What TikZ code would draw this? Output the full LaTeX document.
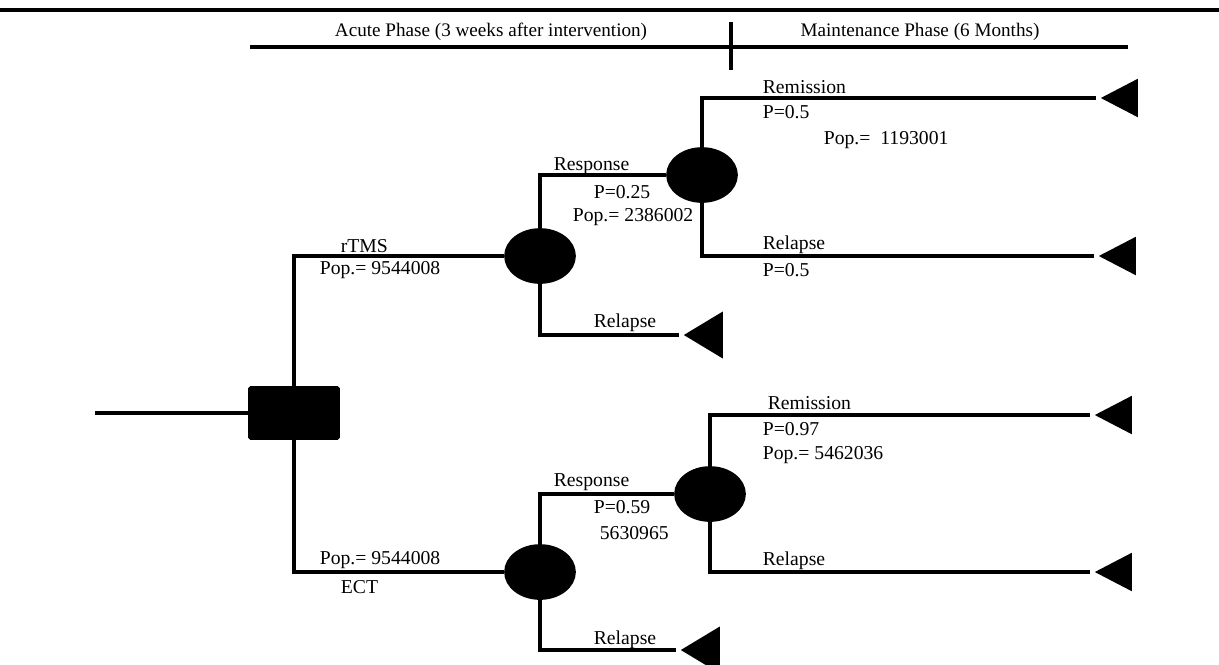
\documentclass[tikz,border=0pt]{standalone}
\usepackage{fontspec}
\setmainfont{Liberation Serif}
\usetikzlibrary{shapes.geometric,calc}
\newcommand{\treefont}{\fontsize{11.2}{13.4}\selectfont}
\newcommand{\kopffont}{\fontsize{10.9}{13}\selectfont}
\begin{document}
\begin{tikzpicture}[
	x=0.02cm, y=-0.02cm,% ein Pixel der Vorlage
	line width=2.1pt,
	entscheidung/.style={draw, fill, rectangle, rounded corners=0.5pt,
		minimum width=1.76cm, minimum height=1.0cm, inner sep=0pt},
	zufall/.style={draw, fill, ellipse, minimum width=1.36cm,
		minimum height=1.04cm, inner sep=0pt},
	ende/.style={fill, isosceles triangle, isosceles triangle stretches,
		shape border rotate=180, minimum width=0.77cm, minimum height=0.74cm,
		inner sep=0pt, anchor=apex},
	endeklein/.style={ende, minimum width=0.94cm, minimum height=0.78cm},
	txt/.style={anchor=west, inner sep=0pt, font=\treefont},
	kopf/.style={inner sep=0pt, font=\kopffont}
]
\useasboundingbox (0,0) rectangle (1219,664);
%
% Kopfzeile
\draw (0,10) -- (1219,10);
\coordinate(k_l) at (250,47);%
\coordinate(k_r) at (1128,47);%
\draw (k_l) -- (k_r);
\draw (731,22) -- (731,70);
\node(k_a) [kopf] at (491,32) {Acute Phase (3 weeks after intervention)};%
\node(k_m) [kopf] at (920,32) {Maintenance Phase (6 Months)};%
%
% Knoten
\coordinate(p_in) at (95,413);%
\node(p_d)%
    [entscheidung] at (294,413)%
    {};%
\node(c_a) [zufall] at (540,256) {};%
\node(c_b) [zufall] at (702,175) {};%
\node(c_c) [zufall] at (540,572) {};%
\node(c_d) [zufall] at (710,494) {};%
%
\node(t_a) [endeklein] at (679,335) {};%
\node(t_b) [ende] at (1096,98) {};%
\node(t_c) [ende] at (1094,256) {};%
\node(t_d) [endeklein] at (676,650) {};%
\node(t_e) [ende] at (1090,415) {};%
\node(t_f) [ende] at (1090,572) {};%
%
% Zweige
\draw (p_in) -- (p_d);
\draw (p_d.north) |- (c_a.west);
\draw (p_d.south) |- (c_c.west);
\draw (c_a.north) |- (c_b.west);
\draw (c_a.south) |- (t_a.apex);
\draw (c_b.north) |- (t_b.apex);
\draw (c_b.south) |- (t_c.apex);
\draw (c_c.north) |- (c_d.west);
\draw (c_c.south) |- (t_d.apex);
\draw (c_d.north) |- (t_e.apex);
\draw (c_d.south) |- (t_f.apex);
%
% Beschriftungen rTMS
\node(l_a) [txt] at (339,246) {rTMS};%
\node(l_b) [txt] at (318,270) {Pop.= 9544008};%
\node(l_c) [txt] at (552,166) {Response};%
\node(l_d) [txt] at (592,192) {P=0.25};%
\node(l_e) [txt] at (571,217) {Pop.= 2386002};%
\node(l_f) [txt] at (592,323) {Relapse};%
\node(l_g) [txt] at (761,87) {Remission};%
\node(l_h) [txt] at (761,112) {P=0.5};%
\node(l_i) [txt] at (822,140) {Pop.=\ \ 1193001};%
\node(l_j) [txt] at (761,245) {Relapse};%
\node(l_k) [txt] at (761,270) {P=0.5};%
%
% Beschriftungen ECT
\node(l_l) [txt] at (318,560) {Pop.= 9544008};%
\node(l_m) [txt] at (339,587) {ECT};%
\node(l_n) [txt] at (552,482) {Response};%
\node(l_o) [txt] at (592,507) {P=0.59};%
\node(l_p) [txt] at (598,533) {5630965};%
\node(l_q) [txt] at (592,640) {Relapse};%
\node(l_r) [txt] at (766,403) {Remission};%
\node(l_s) [txt] at (761,429) {P=0.97};%
\node(l_t) [txt] at (761,455) {Pop.= 5462036};%
\node(l_u) [txt] at (761,561) {Relapse};%
%
\end{tikzpicture}
\end{document}
